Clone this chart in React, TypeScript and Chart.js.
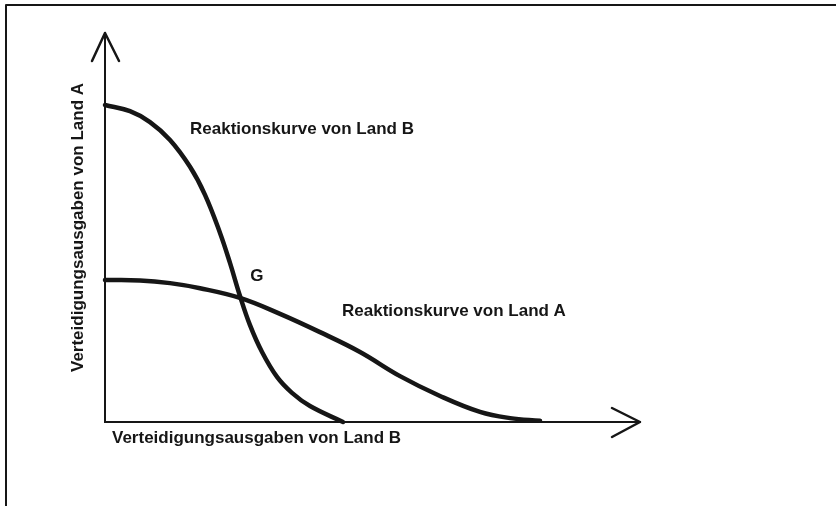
import React, { useEffect, useRef } from "react";
import { Chart, registerables } from "chart.js";

Chart.register(...registerables);

// Reaction curve of country B (x = defence spending B, y = defence spending A)
const curveBX = [0, 4.67, 8.41, 12.15, 15.89, 18.69, 21.5, 23.36, 25.23, 27.1, 29.35, 32.15, 34.95, 38.32, 44.49];
const curveBY = [81.5, 79.9, 77.1, 72.5, 65.6, 58.4, 48.6, 40.9, 32.4, 24.9, 18.0, 11.6, 7.5, 4.1, 0];

// Reaction curve of country A
const curveAX = [0, 6.54, 12.15, 17.76, 25.23, 32.71, 40.19, 47.66, 55.14, 62.62, 70.09, 75.7, 81.31];
const curveAY = [36.5, 36.4, 35.7, 34.4, 31.9, 27.8, 23.1, 18.0, 11.8, 6.7, 2.6, 1.0, 0.3];

const xTitle = "Verteidigungsausgaben von Land B";
const yTitle = "Verteidigungsausgaben von Land A";

// text annotations placed in data coordinates
const labelTexts = ["Reaktionskurve von Land B", "G", "Reaktionskurve von Land A"];
const labelX = [15.9, 28.4, 44.3];
const labelY = [75.3, 37.5, 28.5];
const labelAlign: CanvasTextAlign[] = ["left", "center", "left"];

const FONT = "bold 17px 'Liberation Sans', Arial, sans-serif";
const INK = "#161616";

const toPoints = (xs: number[], ys: number[]) => xs.map((x, i) => ({ x, y: ys[i] }));

const decorPlugin = {
  id: "decor",
  afterDraw(chart: any) {
    const { ctx, chartArea, scales } = chart;
    const { left, right, top, bottom } = chartArea;
    ctx.save();
    ctx.strokeStyle = INK;
    ctx.lineCap = "round";
    ctx.lineJoin = "round";

    // outer frame (top and left edges)
    ctx.lineWidth = 2;
    ctx.beginPath();
    ctx.moveTo(836, 5);
    ctx.lineTo(6, 5);
    ctx.lineTo(6, 506);
    ctx.stroke();

    // arrowheads
    ctx.lineWidth = 2.5;
    ctx.beginPath();
    ctx.moveTo(left - 13, top + 28);
    ctx.lineTo(left, top);
    ctx.lineTo(left + 14, top + 28);
    ctx.stroke();
    ctx.beginPath();
    ctx.moveTo(right - 28, bottom - 14);
    ctx.lineTo(right, bottom);
    ctx.lineTo(right - 28, bottom + 15);
    ctx.stroke();

    // text
    ctx.fillStyle = INK;
    ctx.font = FONT;
    ctx.textBaseline = "middle";
    labelTexts.forEach((t, i) => {
      ctx.textAlign = labelAlign[i];
      ctx.fillText(t, scales.x.getPixelForValue(labelX[i]), scales.y.getPixelForValue(labelY[i]));
    });
    ctx.textAlign = "left";
    ctx.fillText(xTitle, left + 7, bottom + 16);
    ctx.restore();
  },
};

export default function App() {
  const ref = useRef<HTMLCanvasElement | null>(null);
  useEffect(() => {
    if (!ref.current) return;
    const lineStyle = {
      borderColor: INK,
      borderWidth: 4.5,
      pointRadius: 0,
      pointHoverRadius: 0,
      tension: 0.4,
      borderCapStyle: "round" as const,
      fill: false,
      clip: false as any,
    };
    const chart = new Chart(ref.current, {
      type: "line",
      data: {
        datasets: [
          { label: "Reaktionskurve von Land B", data: toPoints(curveBX, curveBY), ...lineStyle },
          { label: "Reaktionskurve von Land A", data: toPoints(curveAX, curveAY), ...lineStyle },
        ],
      },
      options: {
        responsive: false,
        animation: false,
        events: [],
        layout: { padding: { left: 68.6, top: 33, right: 196, bottom: 84 } },
        plugins: {
          legend: { display: false },
          tooltip: { enabled: false },
          title: { display: false },
        },
        scales: {
          x: {
            type: "linear",
            min: 0,
            max: 100,
            grid: { display: false, drawTicks: false },
            ticks: { display: false },
            border: { display: true, color: INK, width: 2 },
            title: { display: false },
          },
          y: {
            type: "linear",
            min: 0,
            max: 100,
            grid: { display: false, drawTicks: false },
            ticks: { display: false },
            border: { display: true, color: INK, width: 2 },
            title: {
              display: true,
              text: yTitle,
              color: INK,
              font: { family: "'Liberation Sans', Arial, sans-serif", size: 17, weight: "bold", lineHeight: 1.2 },
              padding: { top: 0, bottom: 16 },
            },
          },
        },
      },
      plugins: [decorPlugin],
    });
    return () => chart.destroy();
  }, []);
  return (
    <div style={{ position: "absolute", left: 0, top: 0, width: 836, height: 506, background: "#fff" }}>
      <canvas ref={ref} width={836} height={506} style={{ display: "block" }} />
    </div>
  );
}
